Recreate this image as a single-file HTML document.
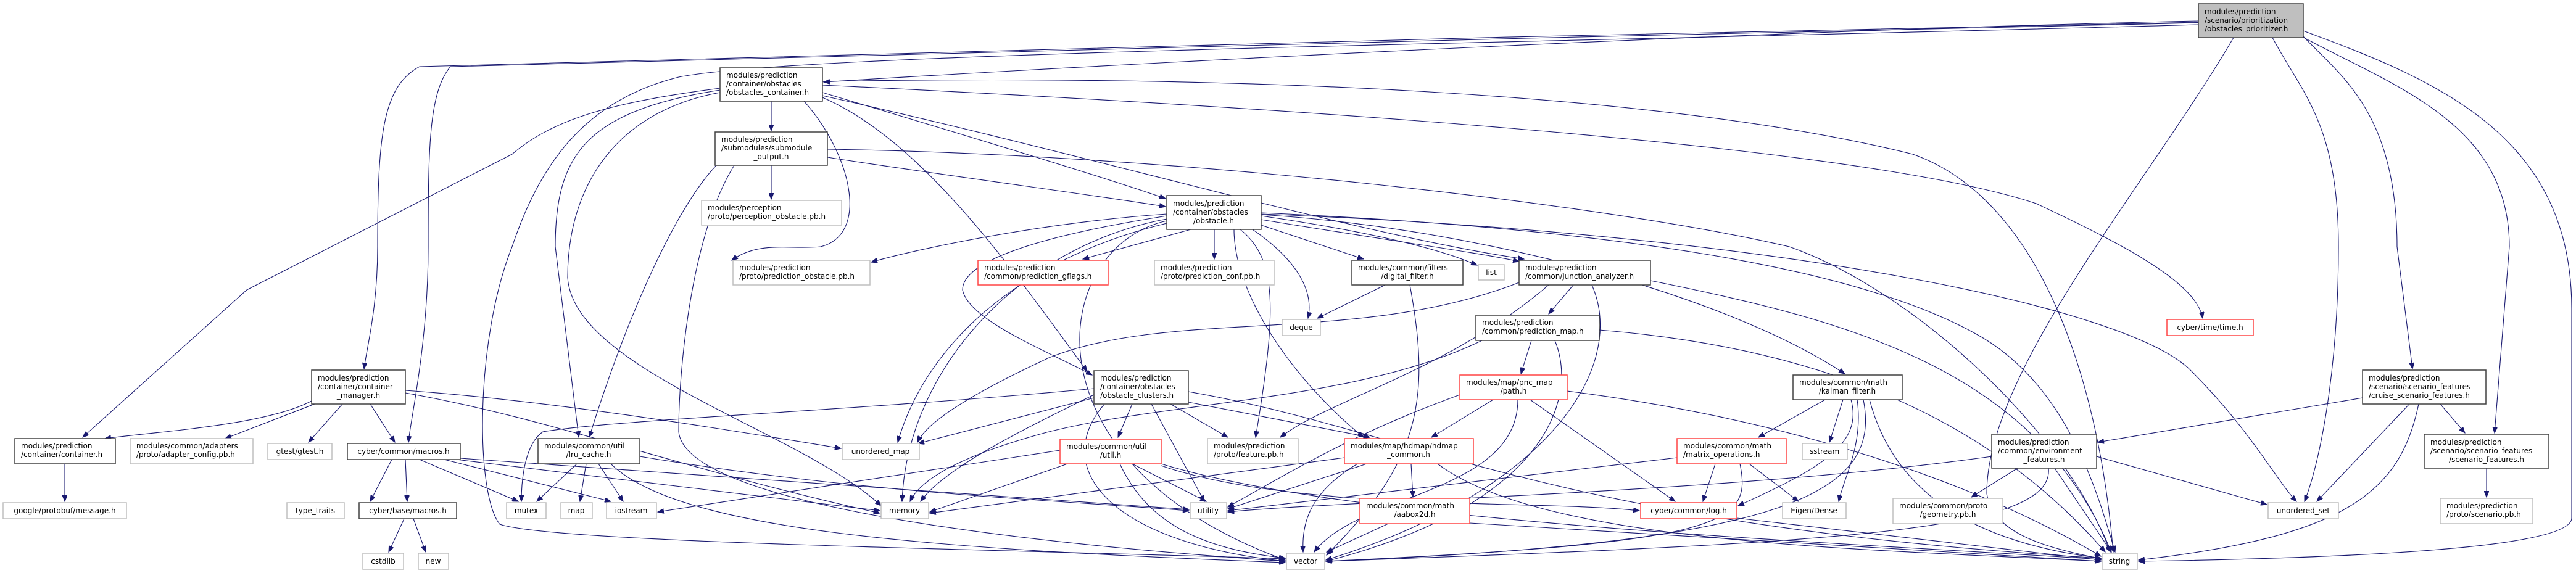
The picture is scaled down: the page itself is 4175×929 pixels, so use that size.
<!DOCTYPE html>
<html><head><meta charset="utf-8"><style>
html,body{margin:0;padding:0;background:#fff;}
svg{display:block;}
text{font-family:"DejaVu Sans","Liberation Sans",sans-serif;font-size:12px;fill:#000;}
.b{fill:#fff;stroke:#404040;stroke-width:1.5;}
.g{fill:#fff;stroke:#bfbfbf;stroke-width:1.5;}
.r{fill:#fff;stroke:#f44;stroke-width:1.5;}
.t{fill:#bfbfbf;stroke:#404040;stroke-width:1.5;}
.e{fill:none;stroke:#191970;stroke-width:1.1;}
</style></head><body>
<svg width="4175" height="929" viewBox="0 0 4175 929" xmlns="http://www.w3.org/2000/svg">
<defs><marker id="a" markerWidth="11" markerHeight="8" refX="10" refY="4" orient="auto" markerUnits="userSpaceOnUse"><path d="M0,0 L10,4 L0,8 z" fill="#191970" stroke="#191970"/></marker></defs>
<g class="e" marker-end="url(#a)">
<!-- top node -->
<path d="M3563,34 C2800,50 1700,110 1335,133"/>
<path d="M3563,36 C2600,55 900,95 680,108 C620,140 612,220 612,400 C612,500 595,560 590,598"/>
<path d="M3563,37 C2600,58 950,98 730,108 C695,150 694,240 694,400 C694,560 665,680 662,717"/>
<path d="M3563,40 C2500,70 1300,85 1100,125 C960,160 880,250 830,400 C770,550 770,800 810,850 C900,880 1600,890 2083,906"/>
<path d="M3620,61 C3480,300 3220,600 3220,800 C3230,870 3330,890 3405,906"/>
<path d="M3683,61 C3730,150 3790,200 3790,400 C3790,600 3760,750 3735,813"/>
<path d="M3732,58 C3790,120 3885,180 3885,400 L3910,598"/>
<path d="M3732,60 C3880,140 4067,200 4067,400 L4043,702"/>
<path d="M3733,50 C3950,130 4168,220 4168,500 L4168,840 C4168,890 3800,905 3466,910"/>
<!-- obstacles_container -->
<path d="M1250,164 L1250,212"/>
<path d="M1303,164 C1380,250 1410,380 1330,400 C1280,405 1230,390 1186,422"/>
<path d="M1333,150 C1500,200 1800,290 1889,322"/>
<path d="M1333,158 C1500,230 1650,450 1762,602"/>
<path d="M1333,155 C1800,260 2200,380 2470,420"/>
<path d="M1333,138 C2000,170 3000,230 3300,330 C3450,400 3560,460 3570,516"/>
<path d="M1333,132 C2000,120 2700,150 3100,250 C3300,320 3400,600 3425,895"/>
<path d="M1167,143 C1000,165 900,190 830,250 L400,470 L134,709"/>
<path d="M1167,146 C950,180 900,250 900,400 L938,709"/>
<path d="M1167,150 C1000,180 920,300 920,450 C930,600 1300,700 1428,820"/>
<!-- submodule_output -->
<path d="M1250,268 L1250,323"/>
<path d="M1341,255 C1500,280 1800,320 1889,335"/>
<path d="M1341,242 C1900,250 2600,330 2900,400 C3100,470 3350,700 3420,895"/>
<path d="M1163,266 C1100,330 1020,500 955,709"/>
<path d="M1190,268 C1120,380 1100,600 1100,700 C1110,800 1500,870 2083,910"/>
<!-- obstacle.h -->
<path d="M1891,347 C1700,360 1500,400 1412,425"/>
<path d="M1930,372 L1755,420"/>
<path d="M1968,372 L1968,420"/>
<path d="M2044,365 L2210,420"/>
<path d="M2044,350 C2250,380 2350,410 2394,430"/>
<path d="M2044,356 C2250,390 2400,410 2462,424"/>
<path d="M1891,350 C1700,380 1560,420 1560,470 C1570,520 1700,570 1770,608"/>
<path d="M2030,372 C2100,420 2130,470 2120,516"/>
<path d="M2010,372 C2070,420 2070,500 2035,709"/>
<path d="M2000,372 C2000,480 2100,620 2210,709"/>
<path d="M2044,348 C2400,370 2800,480 2990,606"/>
<path d="M1891,355 C1650,400 1470,600 1462,813"/>
<path d="M1891,358 C1700,400 1650,750 2083,908"/>
<path d="M2044,345 C2600,370 3000,430 3200,540 C3350,620 3400,800 3428,895"/>
<path d="M1891,362 C1650,420 1500,560 1455,717"/>
<path d="M2044,347 C2900,380 3450,500 3550,600 C3650,700 3690,780 3722,813"/>
<!-- junction_analyzer -->
<path d="M2550,462 L2510,509"/>
<path d="M2462,458 C2200,560 1900,500 1700,580 C1550,650 1500,690 1487,717"/>
<path d="M2510,462 C2350,600 2150,650 2075,709"/>
<path d="M2580,462 C2640,600 2500,800 2149,908"/>
<path d="M2675,455 C3000,520 3300,600 3422,895"/>
<!-- prediction_map -->
<path d="M2482,552 L2465,606"/>
<path d="M2402,552 C2200,650 1900,650 1700,700 C1550,740 1490,780 1475,813"/>
<path d="M2592,535 C2900,560 3200,650 3412,895"/>
<path d="M2520,552 C2560,650 2500,820 2149,910"/>
<!-- clusters -->
<path d="M1835,655 L1812,709"/>
<path d="M1897,655 L1990,709"/>
<path d="M1926,652 L2220,709"/>
<path d="M1866,655 L1952,813"/>
<path d="M1773,640 C1650,700 1530,760 1492,813"/>
<path d="M1773,645 L1488,719"/>
<path d="M1790,655 C1700,760 1800,880 2083,910"/>
<path d="M1926,635 C2300,700 2500,850 3405,905"/>
<path d="M1773,630 C1400,665 1000,680 880,700 C850,720 845,780 845,813"/>
<!-- util -->
<path d="M1730,752 L1507,830"/>
<path d="M1835,752 L1955,813"/>
<path d="M1815,752 C1860,850 1950,890 2083,905"/>
<path d="M1882,752 C2200,850 3000,880 3405,907"/>
<path d="M1882,755 C2100,830 2500,810 2657,828"/>
<path d="M1718,730 L1066,830"/>
<!-- hdmap -->
<path d="M2287,752 L2290,806"/>
<path d="M2179,742 L1507,832"/>
<path d="M2215,752 L1990,825"/>
<path d="M2200,752 C2120,800 2110,850 2112,895"/>
<path d="M2330,752 C2500,880 3000,890 3405,910"/>
<!-- path -->
<path d="M2420,648 L2320,709"/>
<path d="M2480,648 L2715,813"/>
<path d="M2366,640 C2200,700 2100,760 1990,822"/>
<path d="M2460,648 C2460,800 2200,800 2130,895"/>
<path d="M2540,634 C2900,680 3200,780 3405,902"/>
<path d="M2250,849 L2150,895"/>
<path d="M2382,848 L3405,910"/>
<path d="M2815,840 L3405,908"/>
<!-- matrix ops -->
<path d="M2780,752 L2760,813"/>
<path d="M2835,752 L2915,813"/>
<path d="M2718,742 L1990,828"/>
<path d="M2820,752 C2840,850 2800,880 2149,910"/>
<!-- kalman -->
<path d="M2958,648 L2850,709"/>
<path d="M2987,648 L2965,717"/>
<path d="M3010,648 C3020,720 2990,770 2980,813"/>
<path d="M3000,648 C3020,720 2950,760 2817,820"/>
<path d="M3020,648 C3050,800 2900,880 2149,910"/>
<path d="M3030,648 C3070,800 3200,880 3405,905"/>
<!-- env -->
<path d="M3270,759 L3195,806"/>
<path d="M3398,740 L3674,818"/>
<path d="M3330,759 L3422,895"/>
<path d="M3320,759 C3330,860 3000,880 2149,910"/>
<path d="M3228,740 C2800,800 2200,810 1990,830"/>
<!-- cruise -->
<path d="M3829,645 L3400,717"/>
<path d="M3955,655 L3995,702"/>
<path d="M3905,655 L3755,813"/>
<path d="M3920,655 C3890,800 3800,870 3466,908"/>
<path d="M4030,759 L4030,806"/>
<!-- container manager -->
<path d="M505,650 C430,690 250,700 170,711"/>
<path d="M510,655 L365,711"/>
<path d="M555,655 L500,717"/>
<path d="M600,655 L640,717"/>
<path d="M657,633 C900,650 1200,700 1363,727"/>
<path d="M657,637 C900,680 1100,760 1426,832"/>
<path d="M105,752 L105,813"/>
<!-- cyber macros -->
<path d="M635,745 L600,813"/>
<path d="M657,745 L660,813"/>
<path d="M680,745 L840,813"/>
<path d="M720,745 L990,813"/>
<path d="M740,745 L1426,828"/>
<path d="M746,743 L1927,826"/>
<path d="M655,841 L630,895"/>
<path d="M670,841 L690,895"/>
<!-- lru -->
<path d="M935,752 L870,813"/>
<path d="M950,752 L940,813"/>
<path d="M970,752 L1010,813"/>
<path d="M1037,740 C1400,800 1700,810 1927,828"/>
<path d="M990,752 C1100,860 1500,890 2083,912"/>
<!-- digital filter -->
<path d="M2285,462 C2320,650 2300,750 2150,900"/>
<path d="M2245,462 L2135,516"/>
</g>
<!-- nodes -->
<rect class="t" x="3563" y="6" width="170" height="55"/><text x="3573" y="23">modules/prediction</text><text x="3573" y="37">/scenario/prioritization</text><text x="3573" y="51">/obstacles_prioritizer.h</text>
<rect class="b" x="1167" y="110" width="166" height="54"/><text x="1177" y="126">modules/prediction</text><text x="1177" y="140">/container/obstacles</text><text x="1177" y="154">/obstacles_container.h</text>
<rect class="b" x="1159" y="214" width="182" height="54"/><text x="1169" y="230">modules/prediction</text><text x="1169" y="244">/submodules/submodule</text><text x="1250" y="258" text-anchor="middle">_output.h</text>
<rect class="g" x="1137" y="325" width="227" height="40"/><text x="1147" y="341">modules/perception</text><text x="1147" y="355">/proto/perception_obstacle.pb.h</text>
<rect class="g" x="1188" y="422" width="222" height="40"/><text x="1198" y="438">modules/prediction</text><text x="1198" y="452">/proto/prediction_obstacle.pb.h</text>
<rect class="b" x="505" y="600" width="152" height="55"/><text x="515" y="617">modules/prediction</text><text x="515" y="631">/container/container</text><text x="581" y="645" text-anchor="middle">_manager.h</text>
<rect class="b" x="24" y="711" width="163" height="41"/><text x="34" y="727">modules/prediction</text><text x="34" y="741">/container/container.h</text>
<rect class="g" x="211" y="711" width="199" height="41"/><text x="221" y="727">modules/common/adapters</text><text x="221" y="741">/proto/adapter_config.pb.h</text>
<rect class="g" x="434" y="719" width="104" height="26"/><text x="486" y="736" text-anchor="middle">gtest/gtest.h</text>
<rect class="b" x="563" y="719" width="183" height="26"/><text x="654" y="736" text-anchor="middle">cyber/common/macros.h</text>
<rect class="b" x="872" y="711" width="165" height="41"/><text x="882" y="727">modules/common/util</text><text x="954" y="741" text-anchor="middle">/lru_cache.h</text>
<rect class="g" x="1365" y="719" width="125" height="26"/><text x="1427" y="736" text-anchor="middle">unordered_map</text>
<rect class="g" x="5" y="815" width="200" height="26"/><text x="105" y="832" text-anchor="middle">google/protobuf/message.h</text>
<rect class="g" x="465" y="815" width="93" height="26"/><text x="511" y="832" text-anchor="middle">type_traits</text>
<rect class="b" x="582" y="815" width="158" height="26"/><text x="661" y="832" text-anchor="middle">cyber/base/macros.h</text>
<rect class="g" x="821" y="815" width="64" height="26"/><text x="853" y="832" text-anchor="middle">mutex</text>
<rect class="g" x="909" y="815" width="51" height="26"/><text x="934" y="832" text-anchor="middle">map</text>
<rect class="g" x="983" y="815" width="81" height="26"/><text x="1023" y="832" text-anchor="middle">iostream</text>
<rect class="g" x="588" y="897" width="66" height="26"/><text x="621" y="914" text-anchor="middle">cstdlib</text>
<rect class="g" x="678" y="897" width="49" height="26"/><text x="702" y="914" text-anchor="middle">new</text>
<rect class="b" x="1891" y="317" width="153" height="55"/><text x="1901" y="334">modules/prediction</text><text x="1901" y="348">/container/obstacles</text><text x="1967" y="362" text-anchor="middle">/obstacle.h</text>
<rect class="r" x="1585" y="422" width="211" height="40"/><text x="1595" y="438">modules/prediction</text><text x="1595" y="452">/common/prediction_gflags.h</text>
<rect class="g" x="1871" y="422" width="194" height="40"/><text x="1881" y="438">modules/prediction</text><text x="1881" y="452">/proto/prediction_conf.pb.h</text>
<rect class="b" x="2191" y="422" width="180" height="40"/><text x="2201" y="438">modules/common/filters</text><text x="2281" y="452" text-anchor="middle">/digital_filter.h</text>
<rect class="g" x="2396" y="429" width="42" height="25"/><text x="2417" y="446" text-anchor="middle">list</text>
<rect class="b" x="2462" y="422" width="213" height="40"/><text x="2472" y="438">modules/prediction</text><text x="2472" y="452">/common/junction_analyzer.h</text>
<rect class="g" x="2078" y="518" width="62" height="26"/><text x="2109" y="535" text-anchor="middle">deque</text>
<rect class="b" x="2392" y="511" width="200" height="41"/><text x="2402" y="527">modules/prediction</text><text x="2402" y="541">/common/prediction_map.h</text>
<rect class="b" x="1773" y="601" width="153" height="54"/><text x="1783" y="617">modules/prediction</text><text x="1783" y="631">/container/obstacles</text><text x="1783" y="645">/obstacle_clusters.h</text>
<rect class="r" x="2366" y="608" width="174" height="40"/><text x="2376" y="624">modules/map/pnc_map</text><text x="2453" y="638" text-anchor="middle">/path.h</text>
<rect class="r" x="1718" y="712" width="164" height="40"/><text x="1728" y="728">modules/common/util</text><text x="1800" y="742" text-anchor="middle">/util.h</text>
<rect class="g" x="1957" y="711" width="147" height="41"/><text x="1967" y="727">modules/prediction</text><text x="1967" y="741">/proto/feature.pb.h</text>
<rect class="r" x="2179" y="711" width="209" height="41"/><text x="2189" y="727">modules/map/hdmap/hdmap</text><text x="2283" y="741" text-anchor="middle">_common.h</text>
<rect class="r" x="2718" y="711" width="177" height="41"/><text x="2728" y="727">modules/common/math</text><text x="2728" y="741">/matrix_operations.h</text>
<rect class="g" x="1428" y="815" width="77" height="26"/><text x="1466" y="832" text-anchor="middle">memory</text>
<rect class="g" x="1929" y="815" width="59" height="26"/><text x="1958" y="832" text-anchor="middle">utility</text>
<rect class="r" x="2204" y="808" width="178" height="41"/><text x="2214" y="824">modules/common/math</text><text x="2293" y="838" text-anchor="middle">/aabox2d.h</text>
<rect class="r" x="2659" y="815" width="156" height="26"/><text x="2737" y="832" text-anchor="middle">cyber/common/log.h</text>
<rect class="g" x="2085" y="897" width="62" height="26"/><text x="2116" y="914" text-anchor="middle">vector</text>
<rect class="r" x="3512" y="518" width="140" height="26"/><text x="3582" y="535" text-anchor="middle">cyber/time/time.h</text>
<rect class="b" x="2906" y="608" width="177" height="40"/><text x="2916" y="624">modules/common/math</text><text x="2994" y="638" text-anchor="middle">/kalman_filter.h</text>
<rect class="b" x="3829" y="600" width="200" height="55"/><text x="3839" y="617">modules/prediction</text><text x="3839" y="631">/scenario/scenario_features</text><text x="3839" y="645">/cruise_scenario_features.h</text>
<rect class="g" x="2921" y="719" width="73" height="26"/><text x="2957" y="736" text-anchor="middle">sstream</text>
<rect class="b" x="3228" y="704" width="170" height="55"/><text x="3238" y="721">modules/prediction</text><text x="3238" y="735">/common/environment</text><text x="3313" y="749" text-anchor="middle">_features.h</text>
<rect class="b" x="3929" y="704" width="202" height="55"/><text x="3939" y="721">modules/prediction</text><text x="3939" y="735">/scenario/scenario_features</text><text x="4030" y="749" text-anchor="middle">/scenario_features.h</text>
<rect class="g" x="2889" y="815" width="103" height="26"/><text x="2940" y="832" text-anchor="middle">Eigen/Dense</text>
<rect class="g" x="3068" y="808" width="178" height="41"/><text x="3078" y="824">modules/common/proto</text><text x="3157" y="838" text-anchor="middle">/geometry.pb.h</text>
<rect class="g" x="3676" y="815" width="114" height="26"/><text x="3733" y="832" text-anchor="middle">unordered_set</text>
<rect class="g" x="3955" y="808" width="150" height="41"/><text x="3965" y="824">modules/prediction</text><text x="3965" y="838">/proto/scenario.pb.h</text>
<rect class="g" x="3407" y="897" width="57" height="26"/><text x="3435" y="914" text-anchor="middle">string</text>
</svg>
</body></html>
